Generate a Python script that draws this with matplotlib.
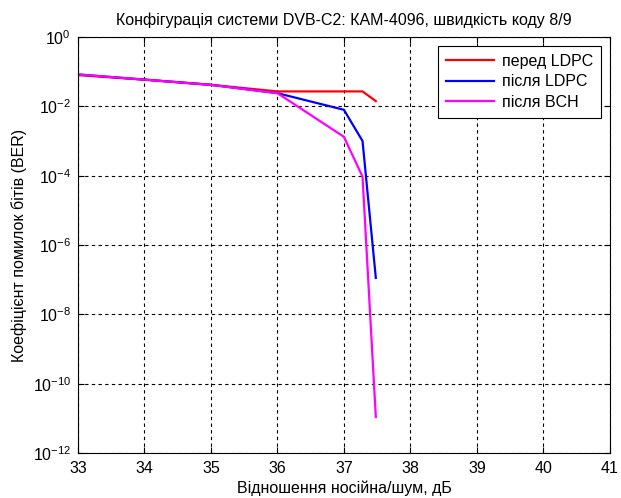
import matplotlib
matplotlib.use('Agg')
import matplotlib.pyplot as plt
import matplotlib.ticker as mticker
import numpy as np

plt.rcParams['font.family'] = ['Liberation Sans', 'DejaVu Sans']

# signal-to-noise, dB
snr_before = [33, 34, 35, 36, 37, 37.28, 37.48]
ber_before = [10**-1.10, 10**-1.23, 10**-1.38, 10**-1.57, 10**-1.57, 10**-1.57, 10**-1.85]

snr_ldpc = [33, 34, 35, 36, 37, 37.28, 37.48]
ber_ldpc = [10**-1.08, 10**-1.23, 10**-1.38, 10**-1.62, 10**-2.1, 10**-3.0, 10**-6.95]

snr_bch = [33, 34, 35, 36, 37, 37.28, 37.48]
ber_bch = [10**-1.08, 10**-1.23, 10**-1.38, 10**-1.62, 10**-2.88, 10**-4.03, 10**-10.96]

labels = ['перед LDPC', 'після LDPC', 'після BCH']
title = 'Конфігурація системи DVB-C2: КАМ-4096, швидкість коду 8/9'

fs = 11.5

fig = plt.figure(figsize=(6.21, 4.98), dpi=100)
ax = fig.add_axes([0.1256, 0.0904, 0.8564, 0.8353])

ax.semilogy(snr_before, ber_before, color='#ff0000', lw=1.6, label=labels[0])
ax.semilogy(snr_ldpc, ber_ldpc, color='#0000ff', lw=1.6, label=labels[1])
ax.semilogy(snr_bch, ber_bch, color='#ff00ff', lw=1.6, label=labels[2])

ax.set_xlim(33, 41)
ax.set_ylim(1e-12, 1e0)
ax.set_xticks(np.arange(33, 42, 1))
ax.yaxis.set_major_locator(mticker.FixedLocator([10.0**k for k in range(-12, 1, 2)]))
ax.yaxis.set_minor_locator(mticker.NullLocator())
ax.yaxis.set_major_formatter(mticker.FuncFormatter(lambda v, p: r'$\mathregular{10^{%d}}$' % round(np.log10(v))))

ax.grid(True, color='black', linestyle=(0, (3, 3)), linewidth=0.8)
ax.tick_params(direction='in', length=4, labelsize=fs, colors='black',
               top=True, right=True)
ax.tick_params(axis='x', pad=6)
ax.tick_params(axis='y', pad=5)
for s in ax.spines.values():
    s.set_linewidth(0.8)

ax.set_title(title, fontsize=fs, pad=9)
ax.set_xlabel('Відношення носійна/шум, дБ', fontsize=fs, labelpad=3)
ax.set_ylabel('Коефіцієнт помилок бітів (BER)', fontsize=fs, labelpad=4)

leg = ax.legend(loc='upper right', fontsize=fs, fancybox=False, framealpha=1,
                edgecolor='black', borderaxespad=0.55, handlelength=3.0,
                handletextpad=0.5, labelspacing=0.35, borderpad=0.5)
leg.get_frame().set_linewidth(0.8)

fig.savefig('out.png', dpi=100)
